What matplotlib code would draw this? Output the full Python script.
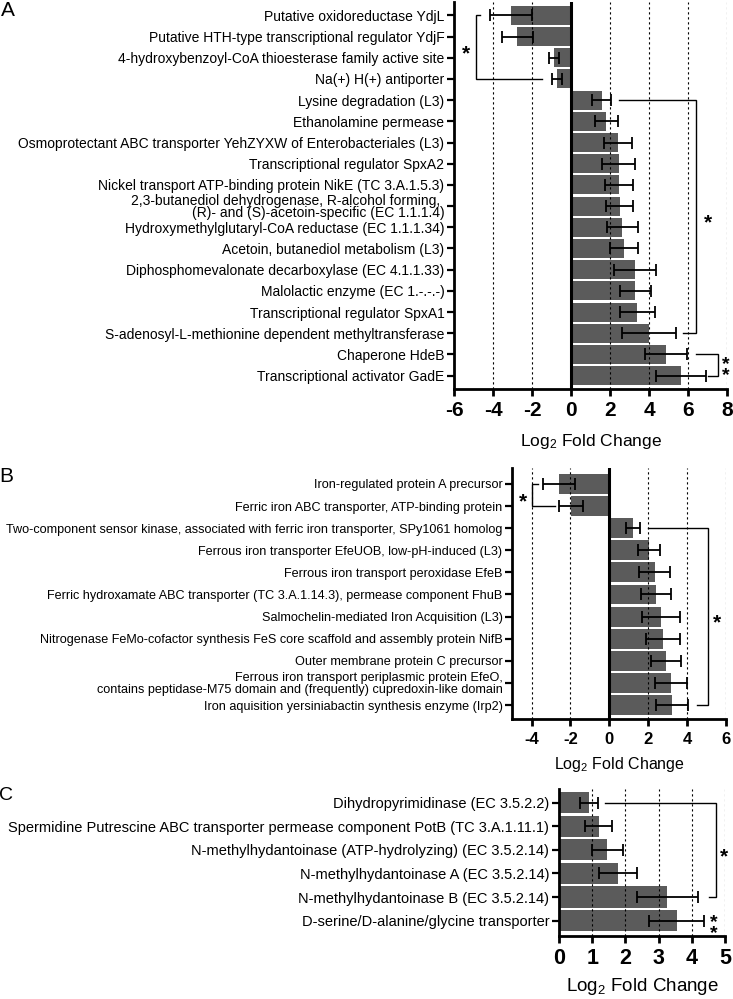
import matplotlib
matplotlib.use("Agg")
import matplotlib.pyplot as plt
import numpy as np

plt.rcParams['font.family'] = ['Liberation Sans', 'DejaVu Sans']
plt.rcParams['mathtext.default'] = 'regular'

# ---------------- data ----------------
A_labels = [
    "Putative oxidoreductase YdjL",
    "Putative HTH-type transcriptional regulator YdjF",
    "4-hydroxybenzoyl-CoA thioesterase family active site",
    "Na(+) H(+) antiporter",
    "Lysine degradation (L3)",
    "Ethanolamine permease",
    "Osmoprotectant ABC transporter YehZYXW of Enterobacteriales (L3)",
    "Transcriptional regulator SpxA2",
    "Nickel transport ATP-binding protein NikE (TC 3.A.1.5.3)",
    "2,3-butanediol dehydrogenase, R-alcohol forming, \n(R)- and (S)-acetoin-specific (EC 1.1.1.4)",
    "Hydroxymethylglutaryl-CoA reductase (EC 1.1.1.34)",
    "Acetoin, butanediol metabolism (L3)",
    "Diphosphomevalonate decarboxylase (EC 4.1.1.33)",
    "Malolactic enzyme (EC 1.-.-.-)",
    "Transcriptional regulator SpxA1",
    "S-adenosyl-L-methionine dependent methyltransferase",
    "Chaperone HdeB",
    "Transcriptional activator GadE",
]
A_values = [-3.08, -2.75, -0.87, -0.72, 1.57, 1.82, 2.39, 2.44, 2.46, 2.49,
            2.63, 2.71, 3.26, 3.29, 3.40, 3.98, 4.89, 5.66]
A_errors = [1.07, 0.79, 0.26, 0.28, 0.50, 0.58, 0.72, 0.83, 0.73, 0.70,
            0.80, 0.72, 1.08, 0.79, 0.89, 1.38, 1.07, 1.28]
A_ticks = [-6, -4, -2, 0, 2, 4, 6, 8]

B_labels = [
    "Iron-regulated protein A precursor",
    "Ferric iron ABC transporter, ATP-binding protein",
    "Two-component sensor kinase, associated with ferric iron transporter, SPy1061 homolog",
    "Ferrous iron transporter EfeUOB, low-pH-induced (L3)",
    "Ferrous iron transport peroxidase EfeB",
    "Ferric hydroxamate ABC transporter (TC 3.A.1.14.3), permease component FhuB",
    "Salmochelin-mediated Iron Acquisition (L3)",
    "Nitrogenase FeMo-cofactor synthesis FeS core scaffold and assembly protein NifB",
    "Outer membrane protein C precursor",
    "Ferrous iron transport periplasmic protein EfeO,\ncontains peptidase-M75 domain and (frequently) cupredoxin-like domain",
    "Iron aquisition yersiniabactin synthesis enzyme (Irp2)",
]
B_values = [-2.60, -1.98, 1.21, 2.04, 2.34, 2.40, 2.66, 2.76, 2.92, 3.19, 3.24]
B_errors = [0.82, 0.60, 0.35, 0.58, 0.79, 0.77, 0.96, 0.89, 0.78, 0.83, 0.84]
B_ticks = [-4, -2, 0, 2, 4, 6]

C_labels = [
    "Dihydropyrimidinase (EC 3.5.2.2)",
    "Spermidine Putrescine ABC transporter permease component PotB (TC 3.A.1.11.1)",
    "N-methylhydantoinase (ATP-hydrolyzing) (EC 3.5.2.14)",
    "N-methylhydantoinase A (EC 3.5.2.14)",
    "N-methylhydantoinase B (EC 3.5.2.14)",
    "D-serine/D-alanine/glycine transporter",
]
C_values = [0.90, 1.19, 1.46, 1.78, 3.26, 3.54]
C_errors = [0.28, 0.42, 0.46, 0.57, 0.92, 0.82]
C_ticks = [0, 1, 2, 3, 4, 5]

BAR = '#5b5b5b'
W, H = 733.0, 999.0


def px_axes(left, top, right, bottom):
    return fig.add_axes([left / W, 1 - bottom / H, (right - left) / W, (bottom - top) / H])


def panel(ax, labels, values, errors, ticks, xlim, ylim, grid, lab_fs, tick_fs, xl_fs,
          zero_line=True, labelpad=6, linespacing=0.95):
    y = np.arange(len(values))
    ax.barh(y, values, height=0.9, color=BAR, zorder=2)
    ax.errorbar(values, y, xerr=errors, fmt='none', ecolor='black', elinewidth=1.3,
                capsize=4.5, capthick=1.3, zorder=4)
    for g in grid:
        ax.axvline(g, color='black', lw=0.8, ls=(0, (2, 2.5)), zorder=3)
    if zero_line:
        ax.axvline(0, color='black', lw=2.2, zorder=5)
    ax.set_xlim(*xlim)
    ax.set_ylim(*ylim)
    ax.set_yticks(y)
    ax.set_yticklabels(labels, fontsize=lab_fs, linespacing=linespacing)
    ax.set_xticks(ticks)
    ax.set_xticklabels([str(t) for t in ticks], fontsize=tick_fs, fontweight='bold')
    for s in ['top', 'right']:
        ax.spines[s].set_visible(False)
    for s in ['left', 'bottom']:
        ax.spines[s].set_linewidth(2)
    ax.tick_params(axis='x', length=5, width=2, pad=4)
    ax.tick_params(axis='y', length=5, width=1.6, pad=2)
    ax.set_xlabel('Log$_2$ Fold Change', fontsize=xl_fs, labelpad=labelpad)


def bracket(ax, y0, y1, xv, x0, x1, lw=1.0):
    ax.plot([x0, xv, xv, x1], [y0, y0, y1, y1], color='black', lw=lw,
            clip_on=False, zorder=6, solid_joinstyle='miter')


def star(ax, x, y, text='*', fs=15):
    ax.text(x, y, text, fontsize=fs, fontweight='bold', ha='center', va='center',
            clip_on=False, zorder=7, linespacing=0.55)


fig = plt.figure(figsize=(7.33, 9.99), dpi=100)

# ---------------- panel A ----------------
axA = px_axes(454, 2, 727, 389)
panel(axA, A_labels, A_values, A_errors, A_ticks, (-6, 8), (17.63, -0.63),
      [-4, -2, 2, 4, 6, 8], 10, 15, 12.5, labelpad=8, linespacing=0.9)
bracket(axA, 0, 3, -4.87, -4.65, -1.5)
star(axA, -5.4, 1.8)
bracket(axA, 4, 15, 6.41, 2.48, 5.76)
star(axA, 7.04, 9.8)
bracket(axA, 16, 17, 7.55, 6.41, 7.04)
star(axA, 7.95, 16.75, '*\n*', fs=14)

# ---------------- panel B ----------------
axB = px_axes(512.3, 468, 725.7, 719)
panel(axB, B_labels, B_values, B_errors, B_ticks, (-5, 6), (10.63, -0.72),
      [-4, -2, 2, 4, 6], 9.1, 12, 11.5, labelpad=6, linespacing=1.0)
bracket(axB, 0, 1, -4.0, -3.67, -2.81)
star(axB, -4.47, 0.8)
bracket(axB, 2, 10, 5.09, 1.99, 4.52)
star(axB, 5.55, 6.3)

# ---------------- panel C ----------------
axC = px_axes(559, 789, 725, 935.7)
panel(axC, C_labels, C_values, C_errors, C_ticks, (0, 5), (5.64, -0.58),
      [1, 2, 3, 4, 5], 10.55, 15.5, 13.5, zero_line=False, labelpad=5)
bracket(axC, 0, 4, 4.72, 1.38, 4.53)
star(axC, 4.96, 2.3)
star(axC, 4.66, 5.3, '*\n*', fs=14)

# panel letters
fig.text(8 / W, 1 - 11 / H, 'A', fontsize=15, ha='center', va='center')
fig.text(6 / W, 1 - 477 / H, 'B', fontsize=15, ha='center', va='center')
fig.text(6 / W, 1 - 795 / H, 'C', fontsize=14, ha='center', va='center')

fig.savefig('out.png', dpi=100)
